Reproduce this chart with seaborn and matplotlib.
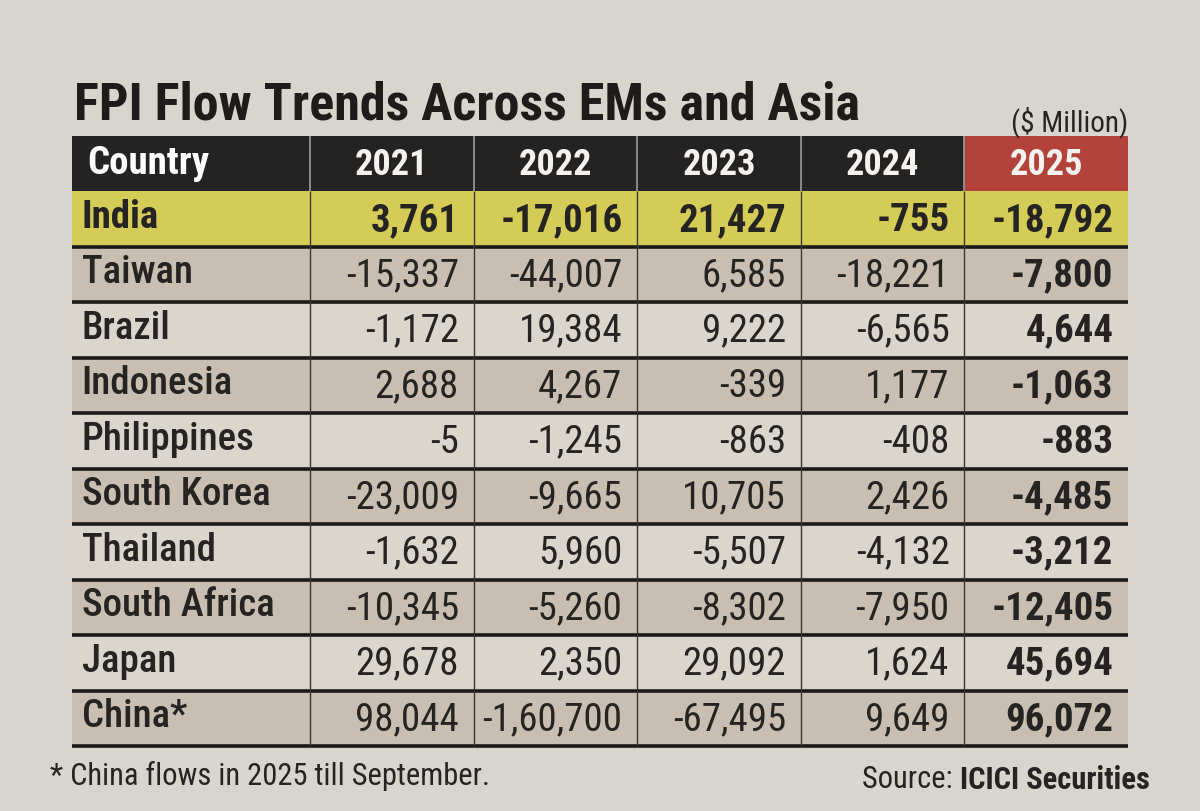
import numpy as np
import matplotlib
matplotlib.use("Agg")
import matplotlib.pyplot as plt
import matplotlib.font_manager as fm
from matplotlib.colors import ListedColormap
import seaborn as sns

countries = ["India", "Taiwan", "Brazil", "Indonesia", "Philippines",
             "South Korea", "Thailand", "South Africa", "Japan", "China*"]
years = ["2021", "2022", "2023", "2024", "2025"]
fpi_2021 = [3761, -15337, -1172, 2688, -5, -23009, -1632, -10345, 29678, 98044]
fpi_2022 = [-17016, -44007, 19384, 4267, -1245, -9665, 5960, -5260, 2350, -160700]
fpi_2023 = [21427, 6585, 9222, -339, -863, 10705, -5507, -8302, 29092, -67495]
fpi_2024 = [-755, -18221, -6565, 1177, -408, 2426, -4132, -7950, 1624, 9649]
fpi_2025 = [-18792, -7800, 4644, -1063, -883, -4485, -3212, -12405, 45694, 96072]

title = "FPI Flow Trends Across EMs and Asia"
unit = "($ Million)"
footnote = "* China flows in 2025 till September."
source_lead = "Source: "
source_name = "ICICI Securities"


def indian_fmt(v):
    # lakh style grouping: 1,60,700
    s = str(abs(v))
    if len(s) > 3:
        head, tail = s[:-3], s[-3:]
        groups = []
        while len(head) > 2:
            groups.insert(0, head[-2:])
            head = head[:-2]
        if head:
            groups.insert(0, head)
        s = ",".join(groups + [tail])
    return ("-" if v < 0 else "") + s


# pick a narrow face if one is installed
names = {f.name for f in fm.fontManager.ttflist}
font = "Roboto"
for cand in ["Roboto Condensed", "Open Sans Condensed", "Noto Sans Condensed",
             "Liberation Sans Narrow", "Noto Sans SemiCondensed", "DejaVu Sans Condensed"]:
    if cand in names:
        font = cand
        break

sns.set_theme(style="white")
plt.rcParams["font.family"] = [font, "DejaVu Sans"]

paper = "#d8d5ce"
ink = "#262422"
table_cols = ListedColormap(["#232323", "#b3423b", "#d5cc58", "#c8bfb2", "#dad6ce"])

values = np.array([fpi_2021, fpi_2022, fpi_2023, fpi_2024, fpi_2025]).T
n_rows = len(countries) + 1

# colour codes: 0 header, 1 highlighted header, 2 India, 3 shaded, 4 plain
num_codes = np.zeros((n_rows, len(years)))
num_codes[0, -1] = 1
num_codes[1, :] = 2
for i in range(2, n_rows):
    num_codes[i, :] = 3 if i % 2 == 0 else 4
name_codes = num_codes[:, :1].copy()
name_codes[0, 0] = 0

W, H = 1200, 811
fig = plt.figure(figsize=(W / 100, H / 100), dpi=100, facecolor=paper)

top, bottom = 136, 746
x_left, x_split, x_right = 72, 310, 1128
ax_name = fig.add_axes([x_left / W, 1 - bottom / H, (x_split - x_left) / W, (bottom - top) / H])
ax_num = fig.add_axes([x_split / W, 1 - bottom / H, (x_right - x_split) / W, (bottom - top) / H])

for ax, codes in [(ax_name, name_codes), (ax_num, num_codes)]:
    sns.heatmap(codes, ax=ax, cmap=table_cols, vmin=-0.5, vmax=4.5, cbar=False,
                xticklabels=False, yticklabels=False)
    ax.set_axis_off()
    ncol = codes.shape[1]
    ax.hlines(range(2, n_rows + 1), 0, ncol, color="#1c1a18", lw=2.6, clip_on=False)

# column separators
ax_num.vlines(range(0, len(years)), 1, n_rows, color="#3a3733", lw=1.0, clip_on=False)
ax_num.vlines(range(0, len(years)), 0, 1, color="#9c9a96", lw=1.2, clip_on=False)

fs = 28
ax_name.text(0.065, 0.5, "Country", ha="left", va="center", color="white",
             fontsize=28, fontweight="bold")
for j, yr in enumerate(years):
    ax_num.text(j + 0.5, 0.52, yr, ha="center", va="center", color="#f4f2ee",
                fontsize=26, fontweight="bold")

for i, c in enumerate(countries):
    row = i + 1
    ax_name.text(0.04, row + 0.47, c, ha="left", va="center", color=ink, fontsize=fs,
                 fontweight="bold" if row == 1 else "medium")
    for j in range(len(years)):
        bold = row == 1 or j == len(years) - 1
        ax_num.text(j + 0.91, row + 0.52, indian_fmt(values[i, j]), ha="right", va="center",
                    color=ink, fontsize=fs, fontweight="bold" if bold else "normal")

fig.text(74 / W, 1 - 105 / H, title, ha="left", va="center", color="#1e1c1a",
         fontsize=37.5, fontweight="heavy")
fig.text(x_right / W, 1 - 122 / H, unit, ha="right", va="center", color=ink, fontsize=21)
fig.text(50 / W, 1 - 776 / H, footnote, ha="left", va="center", color=ink, fontsize=22)
src = fig.text(1150 / W, 1 - 780 / H, source_name, ha="right", va="center", color=ink,
               fontsize=22, fontweight="bold")
fig.canvas.draw()
bb = src.get_window_extent()
fig.text(bb.x0 / W, 1 - 780 / H, source_lead, ha="right", va="center", color=ink, fontsize=22)

fig.savefig("out.png", dpi=100, facecolor=paper)
